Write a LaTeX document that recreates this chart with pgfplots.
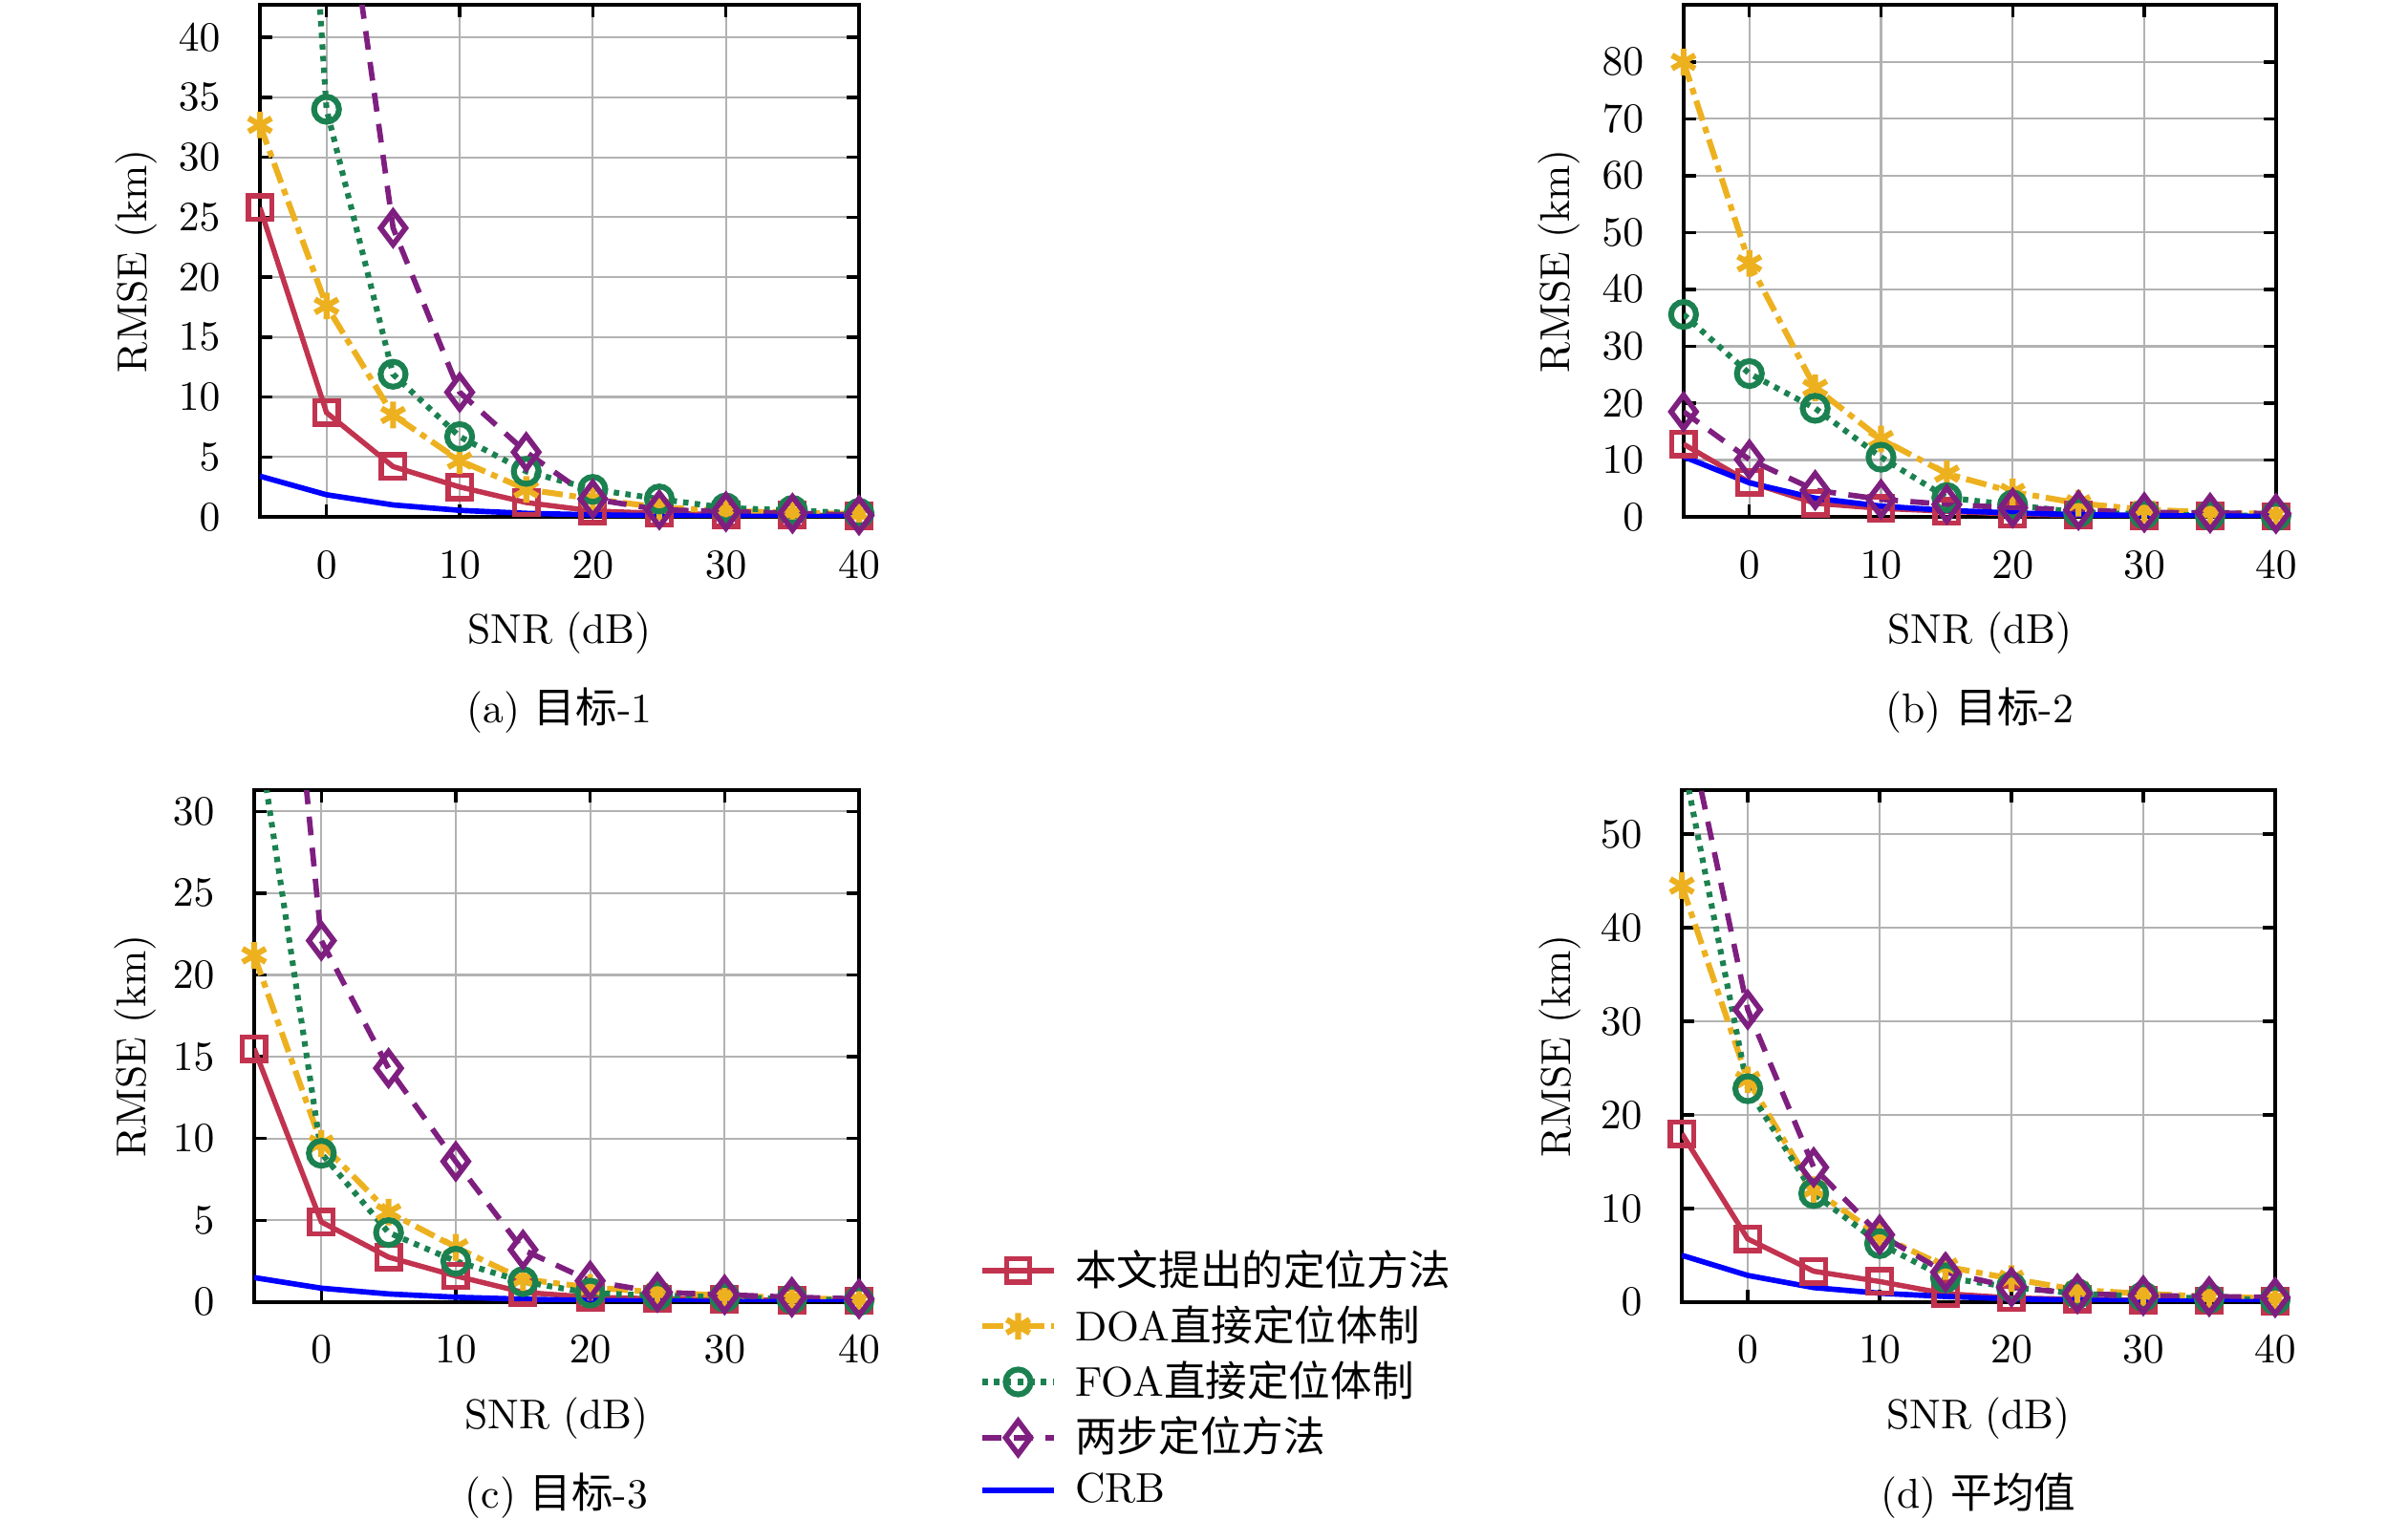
\documentclass[border=0pt]{standalone}
\usepackage{fontspec}
\usepackage{pgfplots}
\pgfplotsset{compat=1.18}
\usepackage{pgfplotstable}
\newfontfamily\cjk{Noto Sans CJK SC}
\definecolor{cred}{HTML}{C1334F}
\definecolor{cyel}{HTML}{EDB120}
\definecolor{cgrn}{HTML}{1B8150}
\definecolor{cpur}{HTML}{7E1F80}

\pgfplotstableread{
snr prop doa foa two crb
-5 25.8 32.7 120 160 3.4
0 8.7 17.6 34.0 64 1.85
5 4.2 8.5 11.9 24.1 1.0
10 2.5 4.7 6.7 10.4 0.55
15 1.2 2.3 3.8 5.4 0.3
20 0.5 1.5 2.3 1.5 0.18
25 0.3 0.8 1.5 0.6 0.1
30 0.2 0.5 0.75 0.45 0.06
35 0.15 0.35 0.55 0.3 0.03
40 0.1 0.25 0.3 0.15 0.02
}\tA
\pgfplotstableread{
snr prop doa foa two crb
-5 12.8 80 35.6 18.5 10.6
0 6.1 44.6 25.2 10.1 6.0
5 2.4 22.7 19.1 4.7 3.3
10 1.5 13.7 10.5 3.1 1.9
15 1.0 7.6 3.4 2.2 1.15
20 0.5 4.4 2.1 1.6 0.7
25 0.3 2.4 0.8 1.2 0.4
30 0.2 1.3 0.5 0.8 0.25
35 0.15 0.8 0.3 0.7 0.15
40 0.1 0.5 0.2 0.6 0.1
}\tB
\pgfplotstableread{
snr prop doa foa two crb
-5 15.5 21.2 36.4 63.9 1.5
0 4.9 9.7 9.1 22.1 0.85
5 2.75 5.5 4.25 14.3 0.5
10 1.6 3.35 2.5 8.6 0.3
15 0.6 1.4 1.25 3.2 0.18
20 0.3 0.9 0.55 1.3 0.1
25 0.2 0.6 0.4 0.6 0.06
30 0.15 0.4 0.3 0.45 0.04
35 0.1 0.25 0.2 0.3 0.02
40 0.08 0.15 0.1 0.2 0.01
}\tC
\pgfplotstableread{
snr prop doa foa two crb
-5 18.0 44.5 58.5 64.4 5.0
0 6.75 23.75 22.8 31.25 2.85
5 3.3 12.0 11.6 14.4 1.55
10 2.2 7.1 6.25 7.2 0.95
15 0.9 3.8 2.6 3.2 0.6
20 0.45 2.5 1.6 1.6 0.35
25 0.3 1.3 0.9 0.9 0.2
30 0.2 0.9 0.6 0.7 0.12
35 0.15 0.6 0.4 0.6 0.07
40 0.1 0.4 0.25 0.5 0.04
}\tD

\pgfplotsset{
  rmse/.style={
    scale only axis, anchor=south west,
    xmin=-5, xmax=40, ymin=0, xtick={0,10,20,30,40},
    grid=major, major grid style={gray!60, line width=0.5pt},
    tick align=inside, major tick length=3pt,
    tick style={black, line width=0.8pt},
    axis line style={black, line width=0.9pt},
    yticklabel style={xshift=-6pt}, xticklabel style={yshift=-4.7pt},
    xlabel={SNR (dB)}, ylabel={RMSE (km)},
    xlabel style={at={(axis description cs:0.5,0)}, anchor=base, yshift=-30.3pt},
    ylabel style={anchor=center},
  },
  sProp/.style={cred, line width=1.25pt, mark=square, mark size=2.8pt, mark options={solid}},
  sDoa/.style={cyel, line width=1.4pt, dash pattern=on 5pt off 1.6pt on 1.6pt off 1.6pt, mark=asterisk, mark size=3.2pt, mark options={solid}},
  sFoa/.style={cgrn, line width=1.4pt, dash pattern=on 1.3pt off 1.5pt, mark=o, mark size=3pt, mark options={solid}},
  sTwo/.style={cpur, line width=1.3pt, dash pattern=on 4.5pt off 3pt, mark=diamond, mark size=4pt, mark options={solid}},
  sCrb/.style={blue, line width=1.3pt, no marks},
}

\newcommand\allplots[1]{%
  \addplot[sProp] table[x=snr,y=prop]{#1};
  \addplot[sDoa] table[x=snr,y=doa]{#1};
  \addplot[sFoa] table[x=snr,y=foa]{#1};
  \addplot[sTwo] table[x=snr,y=two]{#1};
  \addplot[sCrb] table[x=snr,y=crb]{#1};
}

\begin{document}
\begin{tikzpicture}
\path[use as bounding box] (0,0) rectangle (578pt,-364.9pt);

\begin{axis}[rmse, name=a, at={(62.4pt,-124.1pt)}, width=143.8pt, height=122.9pt,
  ymax=42.7, ytick={0,5,...,40}, ylabel style={at={(axis description cs:-0.207,0.5)}}]
\allplots{\tA}
\end{axis}
\node[anchor=base] at ([yshift=-49.5pt]a.south) {(a) {\cjk 目标}-1};

\begin{axis}[rmse, name=b, at={(404.1pt,-124.1pt)}, width=142.2pt, height=122.9pt,
  ymax=90, ytick={0,10,...,80}, ylabel style={at={(axis description cs:-0.21,0.5)}}]
\allplots{\tB}
\end{axis}
\node[anchor=base] at ([yshift=-49.5pt]b.south) {(b) {\cjk 目标}-2};

\begin{axis}[rmse, name=c, at={(61.0pt,-312.6pt)}, width=145.2pt, height=122.9pt,
  ymax=31.3, ytick={0,5,...,30}, ylabel style={at={(axis description cs:-0.196,0.5)}},
  legend cell align=left,
  legend style={at={(axis description cs:1.198,0.116)}, anchor=north west, draw=none, fill=none,
    inner sep=0pt, row sep=0.4pt, column sep=3pt, nodes={inner sep=1.5pt, text depth=0.15em}}]
\allplots{\tC}
\addlegendentry{\cjk 本文提出的定位方法}
\addlegendentry{DOA{\cjk 直接定位体制}}
\addlegendentry{FOA{\cjk 直接定位体制}}
\addlegendentry{\cjk 两步定位方法}
\addlegendentry{CRB}
\end{axis}
\node[anchor=base] at ([yshift=-49.5pt]c.south) {(c) {\cjk 目标}-3};

\begin{axis}[rmse, name=d, at={(403.7pt,-312.6pt)}, width=142.4pt, height=122.9pt,
  ymax=54.7, ytick={0,10,...,50}, ylabel style={at={(axis description cs:-0.206,0.5)}}]
\allplots{\tD}
\end{axis}
\node[anchor=base] at ([yshift=-49.5pt]d.south) {(d) {\cjk 平均值}};
\end{tikzpicture}
\end{document}
